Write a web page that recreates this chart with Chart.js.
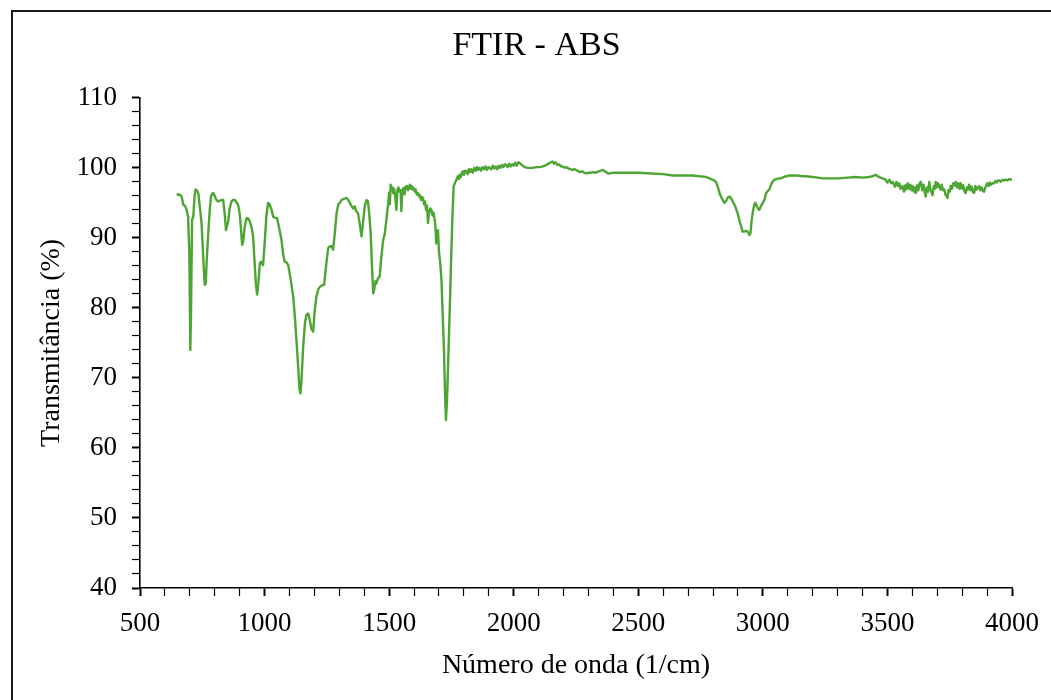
<!DOCTYPE html>
<html>
<head>
<meta charset="utf-8">
<script src="https://cdn.jsdelivr.net/npm/chart.js@4.4.0/dist/chart.umd.min.js"></script>
<style>
  html, body { margin: 0; padding: 0; background: #fff; overflow: hidden; }
  #frame { position: absolute; left: 11px; top: 10px; width: 1200px; height: 1000px;
           border: 2px solid #1a1a1a; pointer-events: none; }
  canvas { position: absolute; left: 0; top: 0; }
</style>
</head>
<body>
<canvas id="ftir" width="1051" height="700"></canvas>
<div id="frame"></div>
<script>
const title = 'FTIR - ABS';
const xTitle = 'Número de onda (1/cm)';
const yTitle = 'Transmitância (%)';

const wavenumber = [
  648, 654, 660, 667, 674, 680, 687, 693, 698, 702, 705, 709, 714, 719, 723, 728, 734, 740, 747, 752,
  757, 760, 764, 768, 774, 780, 785, 790, 794, 800, 807, 814, 820, 827, 834, 840, 845, 850, 854, 860,
  867, 874, 881, 887, 894, 900, 906, 910, 914, 920, 928, 934, 941, 948, 954, 960, 965, 970, 975, 981,
  987, 994, 1000, 1007, 1014, 1020, 1028, 1035, 1042, 1050, 1058, 1068, 1075, 1081, 1088, 1095, 1105, 1115, 1122, 1128,
  1135, 1140, 1144, 1148, 1155, 1162, 1168, 1175, 1182, 1188, 1195, 1201, 1208, 1215, 1222, 1230, 1239, 1247, 1255, 1262,
  1269, 1275, 1282, 1289, 1296, 1302, 1309, 1320, 1329, 1336, 1342, 1348, 1355, 1362, 1368, 1375, 1382, 1389, 1395, 1402,
  1409, 1415, 1420, 1426, 1431, 1436, 1440, 1445, 1449, 1455, 1462, 1468, 1476, 1482, 1489, 1495, 1500, 1503, 1506, 1510,
  1513, 1516, 1520, 1524, 1529, 1533, 1537, 1542, 1546, 1549, 1552, 1555, 1558, 1562, 1566, 1572, 1576, 1580, 1583, 1587,
  1591, 1595, 1599, 1603, 1607, 1611, 1616, 1620, 1624, 1628, 1632, 1636, 1640, 1644, 1648, 1652, 1656, 1660, 1665, 1670,
  1674, 1678, 1683, 1686, 1689, 1693, 1696, 1700, 1705, 1710, 1715, 1720, 1725, 1728, 1732, 1736, 1740, 1745, 1750, 1754,
  1759, 1764, 1770, 1776, 1780, 1783, 1788, 1792, 1796, 1800, 1805, 1810, 1815, 1820, 1825, 1830, 1836, 1842, 1848, 1853,
  1858, 1863, 1869, 1875, 1881, 1887, 1893, 1898, 1903, 1910, 1916, 1922, 1928, 1934, 1940, 1946, 1952, 1958, 1964, 1970,
  1976, 1982, 1988, 1994, 2000, 2006, 2012, 2018, 2024, 2030, 2036, 2045, 2055, 2065, 2077, 2090, 2105, 2117, 2130, 2140,
  2150, 2157, 2162, 2168, 2175, 2182, 2190, 2197, 2205, 2212, 2220, 2228, 2237, 2245, 2255, 2265, 2275, 2283, 2291, 2300,
  2310, 2320, 2330, 2340, 2350, 2358, 2365, 2372, 2378, 2385, 2400, 2450, 2505, 2550, 2600, 2638, 2680, 2718, 2745, 2770,
  2786, 2799, 2812, 2819, 2828, 2839, 2846, 2853, 2860, 2866, 2873, 2879, 2888, 2899, 2908, 2919, 2926, 2932, 2939, 2946,
  2950, 2955, 2959, 2965, 2970, 2976, 2982, 2986, 2993, 3000, 3006, 3013, 3020, 3026, 3033, 3039, 3046, 3055, 3065, 3073,
  3085, 3095, 3106, 3120, 3140, 3160, 3173, 3200, 3240, 3280, 3307, 3340, 3373, 3400, 3427, 3440, 3454, 3465, 3480, 3490,
  3500, 3508, 3515, 3521, 3530, 3536, 3542, 3547, 3553, 3560, 3567, 3572, 3576, 3581, 3587, 3592, 3597, 3601, 3606, 3610,
  3614, 3619, 3624, 3629, 3634, 3640, 3645, 3650, 3654, 3658, 3663, 3668, 3672, 3677, 3681, 3686, 3690, 3694, 3699, 3703,
  3708, 3713, 3718, 3723, 3728, 3733, 3737, 3741, 3745, 3750, 3754, 3759, 3764, 3769, 3774, 3779, 3784, 3789, 3794, 3799,
  3804, 3809, 3814, 3819, 3823, 3828, 3833, 3838, 3843, 3848, 3853, 3858, 3863, 3868, 3873, 3878, 3883, 3888, 3893, 3897,
  3901, 3906, 3911, 3916, 3921, 3927, 3933, 3938, 3943, 3948, 3955, 3962, 3968, 3975, 3982, 3988, 3994, 4000
];

const transmittance = [
  96.3, 96.1, 96.2, 95.9, 94.7, 94.6, 94.0, 93.0, 88.0, 74.0, 80.0, 92.6, 93.0, 96.0, 96.9, 96.8, 96.4, 94.5, 92.1, 88.5,
  85.0, 83.3, 83.5, 87.0, 90.7, 94.0, 95.9, 96.3, 96.4, 96.0, 95.4, 95.2, 95.3, 95.4, 95.4, 93.5, 91.1, 91.8, 92.3, 94.2,
  95.2, 95.4, 95.4, 95.1, 94.7, 93.5, 91.0, 89.0, 89.4, 91.5, 92.8, 92.8, 92.3, 91.5, 90.2, 86.5, 83.5, 81.9, 83.5, 86.4,
  86.6, 86.1, 89.0, 93.0, 95.0, 94.8, 94.0, 93.0, 92.9, 92.8, 91.5, 89.7, 87.5, 86.6, 86.5, 86.1, 84.0, 81.6, 78.5, 75.4,
  71.5, 68.5, 67.8, 69.5, 74.5, 77.8, 79.0, 79.2, 78.2, 77.0, 76.6, 79.5, 81.6, 82.6, 83.0, 83.2, 83.3, 86.0, 88.5, 88.8,
  88.8, 88.3, 90.7, 93.5, 94.8, 95.0, 95.4, 95.6, 95.7, 95.4, 95.0, 94.6, 94.2, 94.5, 93.8, 93.5, 92.0, 90.2, 92.1, 94.5,
  95.4, 95.2, 93.5, 90.7, 86.0, 82.1, 82.6, 83.8, 83.5, 84.2, 84.5, 87.0, 89.7, 90.5, 92.6, 94.5, 96.5, 94.8, 97.6, 96.8,
  97.2, 96.4, 97.0, 96.0, 94.0, 96.8, 97.2, 96.6, 96.8, 93.8, 96.5, 97.0, 97.1, 96.2, 97.3, 97.4, 96.8, 97.3, 97.6, 97.0,
  97.4, 96.9, 97.1, 96.6, 96.9, 96.2, 96.4, 95.9, 96.1, 95.4, 95.8, 95.7, 94.8, 95.2, 94.0, 94.6, 92.1, 93.5, 94.2, 94.0,
  93.2, 93.6, 92.6, 91.5, 89.2, 90.6, 91.1, 88.0, 86.5, 84.0, 79.0, 74.0, 67.0, 64.0, 66.5, 71.0, 75.9, 82.0, 88.3, 93.0,
  97.4, 97.8, 98.3, 98.8, 98.4, 99.0, 98.7, 99.3, 99.5, 99.0, 99.6, 99.5, 99.1, 99.8, 99.4, 99.8, 99.3, 100.0, 99.6, 100.1,
  99.7, 100.0, 99.6, 100.1, 99.8, 100.2, 99.7, 100.1, 100.0, 99.8, 100.3, 99.9, 100.2, 99.8, 100.3, 100.0, 100.4, 100.1, 100.5, 100.4,
  100.1, 100.6, 100.2, 100.5, 100.3, 100.7, 100.3, 100.8, 100.7, 100.5, 100.3, 100.1, 100.0, 100.0, 100.0, 100.1, 100.1, 100.2, 100.4, 100.6,
  100.8, 100.9, 100.6, 100.8, 100.4, 100.5, 100.2, 100.2, 100.0, 100.1, 99.9, 99.8, 99.7, 99.8, 99.6, 99.4, 99.5, 99.3, 99.2, 99.3,
  99.3, 99.4, 99.3, 99.5, 99.6, 99.7, 99.5, 99.4, 99.2, 99.2, 99.3, 99.3, 99.3, 99.2, 99.1, 98.9, 98.9, 98.9, 98.8, 98.7,
  98.5, 98.3, 98.0, 97.3, 96.2, 95.4, 95.0, 95.3, 95.8, 95.9, 95.6, 95.2, 94.6, 93.5, 92.2, 90.9, 90.9, 91.0, 90.9, 90.4,
  90.6, 92.5, 93.5, 94.7, 95.0, 94.5, 94.1, 94.0, 94.6, 95.0, 95.4, 96.4, 96.7, 96.9, 97.6, 98.0, 98.3, 98.4, 98.5, 98.5,
  98.7, 98.8, 98.9, 98.9, 98.9, 98.8, 98.8, 98.7, 98.5, 98.5, 98.5, 98.6, 98.7, 98.6, 98.7, 98.8, 99.0, 98.7, 98.5, 98.4,
  97.9, 98.3, 97.8, 98.0, 97.3, 98.0, 97.4, 97.8, 97.0, 97.4, 96.6, 97.5, 96.9, 97.8, 97.0, 97.6, 96.8, 97.4, 96.6, 97.2,
  96.4, 97.5, 96.8, 97.8, 98.0, 96.8, 97.6, 96.4, 95.9, 97.2, 96.6, 98.0, 97.0, 96.5, 96.1, 97.4, 97.0, 98.0, 97.2, 97.8,
  97.4, 96.9, 97.6, 96.8, 96.9, 96.2, 96.0, 95.7, 96.8, 96.6, 97.4, 97.0, 97.8, 97.5, 98.0, 97.2, 97.8, 97.0, 97.8, 97.0,
  97.5, 96.7, 96.4, 97.2, 96.9, 97.6, 96.8, 97.3, 96.6, 96.4, 97.4, 96.9, 97.2, 97.4, 96.8, 97.2, 96.7, 96.6, 97.2, 97.5,
  97.8, 97.4, 97.9, 97.6, 97.8, 97.8, 98.1, 97.9, 98.2, 98.2, 98.0, 98.3, 98.2, 98.3, 98.2, 98.4, 98.3, 98.4
];

const xMin = 500, xMax = 4000, xMajor = 500, xMinor = 100;
const yMin = 40, yMax = 110, yMajor = 10, yMinor = 2;

const serif = 'Liberation Serif';
Chart.defaults.font.family = serif;
Chart.defaults.color = '#000';

const points = wavenumber.map((w, i) => ({ x: w, y: transmittance[i] }));

new Chart(document.getElementById('ftir').getContext('2d'), {
  type: 'line',
  data: {
    datasets: [{
      label: 'ABS',
      data: points,
      borderColor: '#4DA533',
      borderWidth: 2.4,
      borderJoinStyle: 'round',
      pointRadius: 0,
      tension: 0,
      fill: false
    }]
  },
  options: {
    responsive: false,
    animation: false,
    layout: { padding: { left: 60, right: 38, top: 0, bottom: 0 } },
    plugins: {
      legend: { display: false },
      tooltip: { enabled: false },
      title: {
        display: true,
        text: title,
        color: '#000',
        font: { family: serif, size: 34, weight: 'normal' },
        padding: { top: 26, bottom: 31 }
      }
    },
    scales: {
      x: {
        type: 'linear',
        min: xMin,
        max: xMax,
        afterFit: s => { s.height = 112; },
        border: { display: true, color: '#000', width: 1.6 },
        grid: {
          drawOnChartArea: false,
          drawTicks: true,
          tickLength: 8,
          tickColor: '#000',
          tickWidth: c => (c.tick && c.tick.value % xMajor === 0 ? 2 : 1.2)
        },
        ticks: {
          stepSize: xMinor,
          autoSkip: false,
          maxRotation: 0,
          padding: 12,
          font: { family: serif, size: 27 },
          callback: v => (v % xMajor === 0 ? v : '')
        },
        title: {
          display: true,
          text: xTitle,
          font: { family: serif, size: 28 },
          padding: { top: 0, bottom: 18 }
        }
      },
      y: {
        min: yMin,
        max: yMax,
        afterFit: s => { s.width = 80; },
        border: { display: true, color: '#000', width: 1.6 },
        grid: {
          drawOnChartArea: false,
          drawTicks: true,
          tickLength: 8,
          tickColor: '#000',
          tickWidth: c => (c.tick && c.tick.value % yMajor === 0 ? 2 : 1.2)
        },
        ticks: {
          stepSize: yMinor,
          autoSkip: false,
          padding: 15,
          font: { family: serif, size: 27 },
          callback: v => (v % yMajor === 0 ? v : '')
        },
        title: {
          display: true,
          text: yTitle,
          font: { family: serif, size: 28 },
          padding: { top: -25, bottom: 0 }
        }
      }
    }
  }
});
</script>
</body>
</html>
